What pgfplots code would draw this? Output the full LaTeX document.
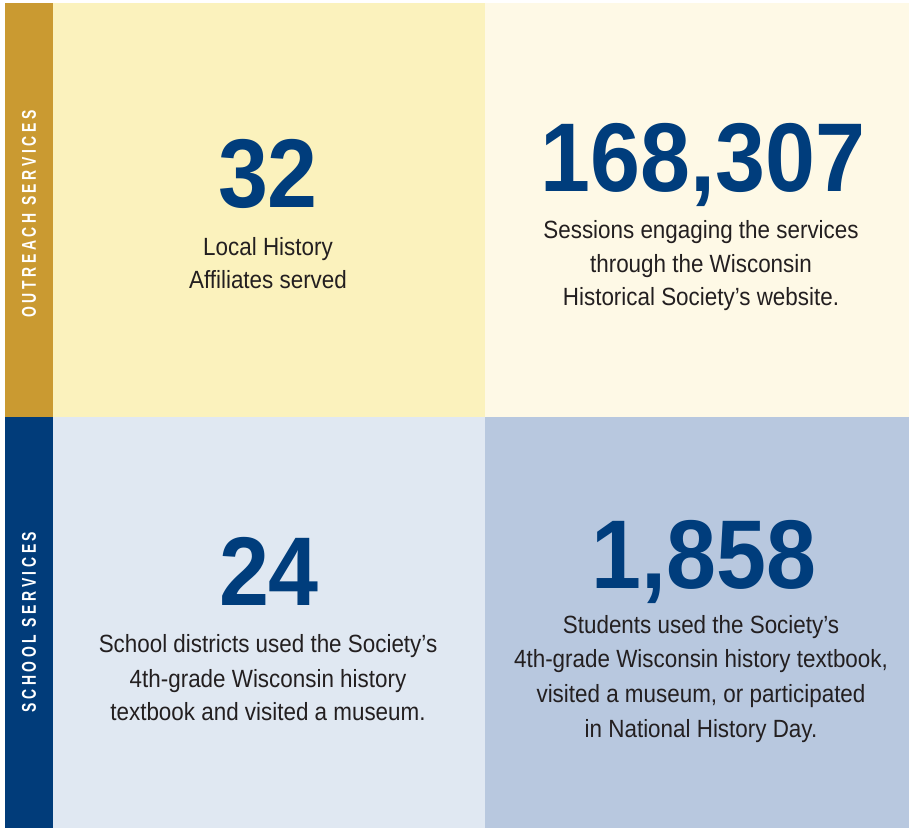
\documentclass[border=0pt]{standalone}
\usepackage{fontspec}
\setmainfont{Liberation Sans}
\newfontfamily\numfont{Liberation Sans}[FakeStretch=0.92]
\newfontfamily\bodyfont{Liberation Sans}[FakeStretch=0.9]
\newfontfamily\sidefont{Liberation Sans}[FakeStretch=0.7,LetterSpace=18]
\usepackage{pgfplots}
\pgfplotsset{compat=1.18}
\definecolor{sidegold}{HTML}{CA9A31}
\definecolor{sidenavy}{HTML}{013C7A}
\definecolor{panelyellow}{HTML}{FBF2BD}
\definecolor{panelcream}{HTML}{FEF9E6}
\definecolor{panelpale}{HTML}{E0E8F2}
\definecolor{panelblue}{HTML}{B8C8DF}
\definecolor{numblue}{HTML}{003D7C}
\definecolor{bodytext}{HTML}{231F20}

\tikzset{
  num/.style={anchor=base, text=numblue, font=\numfont\bfseries\fontsize{98}{98}\selectfont},
  body/.style={anchor=base, text=bodytext, font=\bodyfont\fontsize{25}{30}\selectfont},
  side/.style={anchor=center, rotate=90, text=white, font=\sidefont\bfseries\fontsize{20}{21}\selectfont},
}

\begin{document}
\begin{tikzpicture}
\begin{axis}[
    scale only axis,
    width=909bp, height=828bp,
    xmin=0, xmax=909, ymin=0, ymax=828,
    y dir=reverse,
    hide axis,
    clip=false,
]
% background and panels (x from left, y from top, in pixels)
\addplot[fill=white, draw=none] coordinates {(0,0) (909,0) (909,828) (0,828)};
\addplot[fill=sidegold, draw=none] coordinates {(5,3) (53.5,3) (53.5,417.5) (5,417.5)};
\addplot[fill=sidenavy, draw=none] coordinates {(5,417) (53.5,417) (53.5,828) (5,828)};
\addplot[fill=panelyellow, draw=none] coordinates {(53,3) (485.5,3) (485.5,417.5) (53,417.5)};
\addplot[fill=panelcream, draw=none] coordinates {(485,3) (909,3) (909,417.5) (485,417.5)};
\addplot[fill=panelpale, draw=none] coordinates {(53,417) (485.5,417) (485.5,828) (53,828)};
\addplot[fill=panelblue, draw=none] coordinates {(485,417) (909,417) (909,828) (485,828)};

% side labels
\node[side] at (axis cs:29,214) {OUTREACH SERVICES};
\node[side] at (axis cs:29,622) {SCHOOL SERVICES};

% top left
\node[num] at (axis cs:268,208) {32};
\node[body] at (axis cs:268,255) {Local History};
\node[body] at (axis cs:268,288) {Affiliates served};

% top right
\node[num] at (axis cs:703,192) {168,307};
\node[body] at (axis cs:701,238) {Sessions engaging the services};
\node[body] at (axis cs:701,272) {through the Wisconsin};
\node[body] at (axis cs:701,305) {Historical Society’s website.};

% bottom left
\node[num] at (axis cs:269,605) {24};
\node[body] at (axis cs:268,652) {School districts used the Society’s};
\node[body] at (axis cs:268,687) {4th-grade Wisconsin history};
\node[body] at (axis cs:268,720) {textbook and visited a museum.};

% bottom right
\node[num] at (axis cs:704,588) {1,858};
\node[body] at (axis cs:701,633) {Students used the Society’s};
\node[body] at (axis cs:701,667) {4th-grade Wisconsin history textbook,};
\node[body] at (axis cs:701,702) {visited a museum, or participated};
\node[body] at (axis cs:701,737) {in National History Day.};
\end{axis}
\end{tikzpicture}
\end{document}
